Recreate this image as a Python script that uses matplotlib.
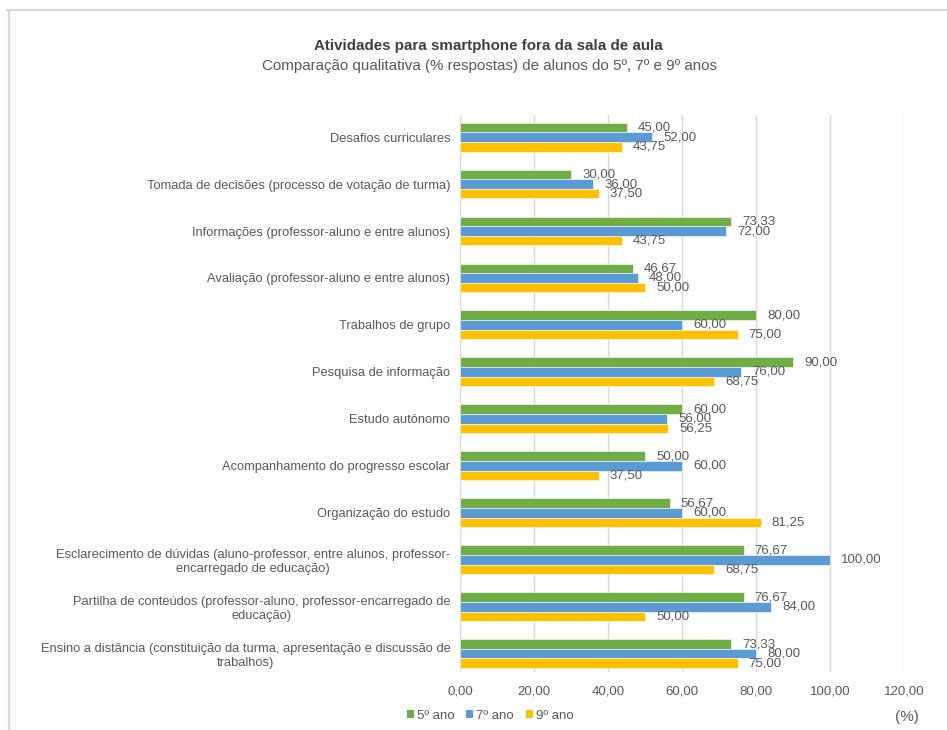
import matplotlib
matplotlib.use("Agg")
import matplotlib.pyplot as plt
from matplotlib.ticker import FuncFormatter, MultipleLocator
from matplotlib.patches import Patch
from matplotlib.lines import Line2D

plt.rcParams['font.family'] = ['Liberation Sans', 'DejaVu Sans']

categories = [
    "Desafios curriculares",
    "Tomada de decisões (processo de votação de turma)",
    "Informações (professor-aluno e entre alunos)",
    "Avaliação (professor-aluno e entre alunos)",
    "Trabalhos de grupo",
    "Pesquisa de informação",
    "Estudo autónomo",
    "Acompanhamento do progresso escolar",
    "Organização do estudo",
    "Esclarecimento de dúvidas (aluno-professor, entre alunos, professor-\nencarregado de educação)",
    "Partilha de conteúdos (professor-aluno, professor-encarregado de\neducação)",
    "Ensino a distância (constituição da turma, apresentação e discussão de\ntrabalhos)",
]
ano5 = [45.00, 30.00, 73.33, 46.67, 80.00, 90.00, 60.00, 50.00, 56.67, 76.67, 76.67, 73.33]
ano7 = [52.00, 36.00, 72.00, 48.00, 60.00, 76.00, 56.00, 60.00, 60.00, 100.00, 84.00, 80.00]
ano9 = [43.75, 37.50, 43.75, 50.00, 75.00, 68.75, 56.25, 37.50, 81.25, 68.75, 50.00, 75.00]
series_names = ["5º ano", "7º ano", "9º ano"]
colors = ["#70AD47", "#5B9BD5", "#FFC000"]

TXT = "#595959"
W, H = 947, 730
fig = plt.figure(figsize=(W / 100, H / 100), dpi=100)

# outer frame lines (top and left)
fig.add_artist(Line2D([7 / W, 1.0], [1 - 10 / H, 1 - 10 / H], color="#D9D9D9", lw=1.6))
fig.add_artist(Line2D([8.5 / W, 8.5 / W], [0, 1 - 10 / H], color="#D9D9D9", lw=1.6))

ax = fig.add_axes([460 / W, 1 - 672 / H, (904 - 460) / W, (672 - 115) / H])

bh = 0.205
n = len(categories)
ys = list(range(n))
for k, (vals, col) in enumerate(zip([ano5, ano7, ano9], colors)):
    pos = [y + (k - 1) * bh for y in ys]
    ax.barh(pos, vals, height=bh, color=col, edgecolor="white", linewidth=0.4, zorder=3)
    for p, v in zip(pos, vals):
        ax.annotate(f"{v:.2f}".replace(".", ","), xy=(v, p), xytext=(8, 0),
                    textcoords="offset points", ha="left", va="center",
                    fontsize=9.5, color=TXT, zorder=4)

ax.set_xlim(0, 120)
ax.set_ylim(n - 1 + 0.39, -0.47)
ax.xaxis.set_major_locator(MultipleLocator(20))
ax.xaxis.set_major_formatter(FuncFormatter(lambda x, _: f"{x:.2f}".replace(".", ",")))
ax.grid(axis="x", color="#D9D9D9", lw=1.0, zorder=0)
ax.set_yticks(ys)
ax.set_yticklabels(categories, multialignment="center")
ax.tick_params(axis="y", length=0, pad=7, labelsize=9.3, labelcolor=TXT)
ax.tick_params(axis="x", length=0, pad=10, labelsize=9.5, labelcolor=TXT)
for s in ax.spines.values():
    s.set_visible(False)

fig.text(488 / W, 1 - 46 / H, "Atividades para smartphone fora da sala de aula",
         ha="center", va="center", fontsize=10.9, fontweight="bold", color="#404040")
fig.text(489 / W, 1 - 66 / H, "Comparação qualitativa (% respostas) de alunos do 5º, 7º e 9º anos",
         ha="center", va="center", fontsize=10.9, color=TXT)

handles = [Patch(facecolor=c, edgecolor="none") for c in colors]
fig.legend(handles, series_names, loc="center", bbox_to_anchor=(490 / W, 1 - 716 / H),
           ncol=3, frameon=False, fontsize=9.5, labelcolor=TXT,
           handlelength=0.55, handleheight=0.55, handletextpad=0.2, columnspacing=0.9)
fig.text(907 / W, 1 - 717 / H, "(%)", ha="center", va="center", fontsize=11, color=TXT)

fig.savefig("out.png", dpi=100)
